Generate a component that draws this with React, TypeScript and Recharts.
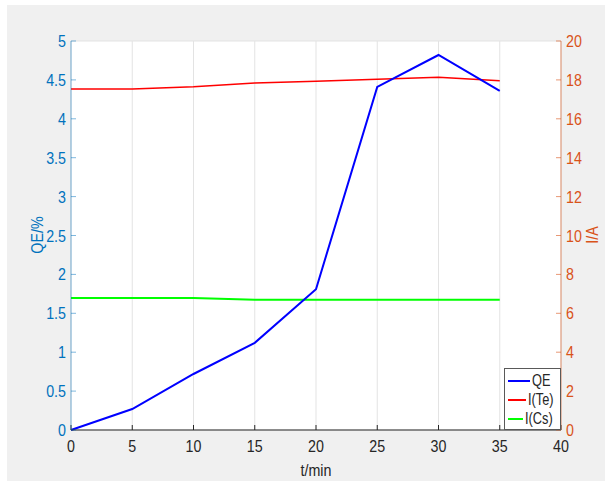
import { LineChart, Line, XAxis, YAxis, CartesianGrid, Legend, Label } from 'recharts';

const times = [0, 5, 10, 15, 20, 25, 30, 35];
const qe = [0, 0.27, 0.72, 1.12, 1.81, 4.41, 4.82, 4.36];
const te = [17.53, 17.53, 17.65, 17.84, 17.93, 18.03, 18.13, 17.96];
const cs = [6.79, 6.79, 6.79, 6.7, 6.7, 6.7, 6.7, 6.7];

const xTicks = [0, 5, 10, 15, 20, 25, 30, 35, 40];
const qeTicks = [0, 0.5, 1, 1.5, 2, 2.5, 3, 3.5, 4, 4.5, 5];
const iTicks = [0, 2, 4, 6, 8, 10, 12, 14, 16, 18, 20];

const legendItems = [
  { name: 'QE', color: '#0000ff' },
  { name: 'I(Te)', color: '#ff0000' },
  { name: 'I(Cs)', color: '#00ff00' },
];

const data = times.map((t, i) => ({ t, qe: qe[i], te: te[i], cs: cs[i] }));

const FONT = '"Liberation Sans", Arial, sans-serif';
const BLUE = '#0072BD';
const ORANGE = '#D95319';
const DARK = '#262626';
const SX = 0.84; // the reference text is squeezed sideways

// text drawn a bit narrower than the font, like the reference
function Squeezed({ x, y, anchor, fill, size, dy, rotate, children }: any) {
  const rot = rotate ? ` rotate(${rotate})` : '';
  return (
    <text
      transform={`translate(${x},${y})${rot} scale(${SX},1)`}
      textAnchor={anchor}
      fill={fill}
      fontSize={size}
      fontFamily={FONT}
      dy={dy}
    >
      {children}
    </text>
  );
}

const makeTick = (fill: string, anchor: string, dy: string) => (props: any) => (
  <Squeezed x={props.x} y={props.y} anchor={anchor} fill={fill} size={17} dy={dy}>
    {props.payload.value}
  </Squeezed>
);

function LegendBox() {
  return (
    <div
      style={{
        border: '1px solid #595959',
        background: '#fff',
        width: 57,
        height: 62,
        fontFamily: FONT,
        fontSize: 16,
        color: DARK,
        paddingTop: 2,
        boxSizing: 'border-box',
      }}
    >
      {legendItems.map(it => (
        <div key={it.name} style={{ display: 'flex', alignItems: 'center', height: 19 }}>
          <span style={{ display: 'inline-block', width: 22, height: 2, background: it.color, marginLeft: 3 }} />
          <span style={{ marginLeft: 2, display: 'inline-block', transform: 'scaleX(0.8)', transformOrigin: 'left center' }}>
            {it.name}
          </span>
        </div>
      ))}
    </div>
  );
}

export default function App() {
  return (
    <div style={{ position: 'absolute', left: 0, top: 0, width: 615, height: 483, background: '#fff' }}>
      <div style={{ position: 'absolute', left: 7, top: 5, width: 598, height: 476, background: '#f0f0f0' }} />
      <div style={{ position: 'absolute', left: 0, top: 0 }}>
        <LineChart width={615} height={483} data={data} margin={{ top: 41, right: 0, bottom: 0, left: 0 }}>
          <CartesianGrid stroke="#e3e3e3" fill="#ffffff" />
          <XAxis
            dataKey="t"
            type="number"
            domain={[0, 40]}
            ticks={xTicks}
            height={53}
            stroke={DARK}
            tickSize={-5}
            tickMargin={15}
            tick={makeTick(DARK, 'middle', '0.71em')}
          >
            <Label
              content={() => (
                <Squeezed x={316} y={476} anchor="middle" fill={DARK} size={17}>
                  t/min
                </Squeezed>
              )}
            />
          </XAxis>
          <XAxis
            xAxisId="top"
            orientation="top"
            type="number"
            dataKey="t"
            domain={[0, 40]}
            ticks={xTicks}
            height={0}
            stroke="#7f7f7f"
            tickSize={-5}
            tick={false}
          >
            <Label
              content={() => (
                <Squeezed x={316} y={33} anchor="middle" fill="#000" size={18}>
                  Curve of QE with evaporation time
                </Squeezed>
              )}
            />
          </XAxis>
          <YAxis
            yAxisId="left"
            domain={[0, 5]}
            ticks={qeTicks}
            width={71}
            stroke={BLUE}
            strokeOpacity={0.5}
            tickSize={-5}
            tickMargin={10}
            tick={makeTick(BLUE, 'end', '0.355em')}
          >
            <Label
              content={() => (
                <Squeezed x={43} y={235} rotate={-90} anchor="middle" fill={BLUE} size={17}>
                  QE/%
                </Squeezed>
              )}
            />
          </YAxis>
          <YAxis
            yAxisId="right"
            orientation="right"
            domain={[0, 20]}
            ticks={iTicks}
            width={54}
            stroke={ORANGE}
            strokeOpacity={0.6}
            tickSize={-5}
            tickMargin={10}
            tick={makeTick(ORANGE, 'start', '0.355em')}
          >
            <Label
              content={() => (
                <Squeezed x={598} y={235} rotate={-90} anchor="middle" fill={ORANGE} size={17}>
                  I/A
                </Squeezed>
              )}
            />
          </YAxis>
          <Line yAxisId="right" type="linear" dataKey="te" stroke="#ff0000" strokeWidth={1.5} dot={false} isAnimationActive={false} />
          <Line yAxisId="right" type="linear" dataKey="cs" stroke="#00ff00" strokeWidth={2} dot={false} isAnimationActive={false} />
          <Line yAxisId="left" type="linear" dataKey="qe" stroke="#0000ff" strokeWidth={2} dot={false} isAnimationActive={false} />
          <Legend
            layout="vertical"
            align="center"
            verticalAlign="middle"
            content={() => <LegendBox />}
            wrapperStyle={{ left: 504, top: 368, width: 57, height: 62, right: 'auto', bottom: 'auto' }}
          />
        </LineChart>
      </div>
    </div>
  );
}
